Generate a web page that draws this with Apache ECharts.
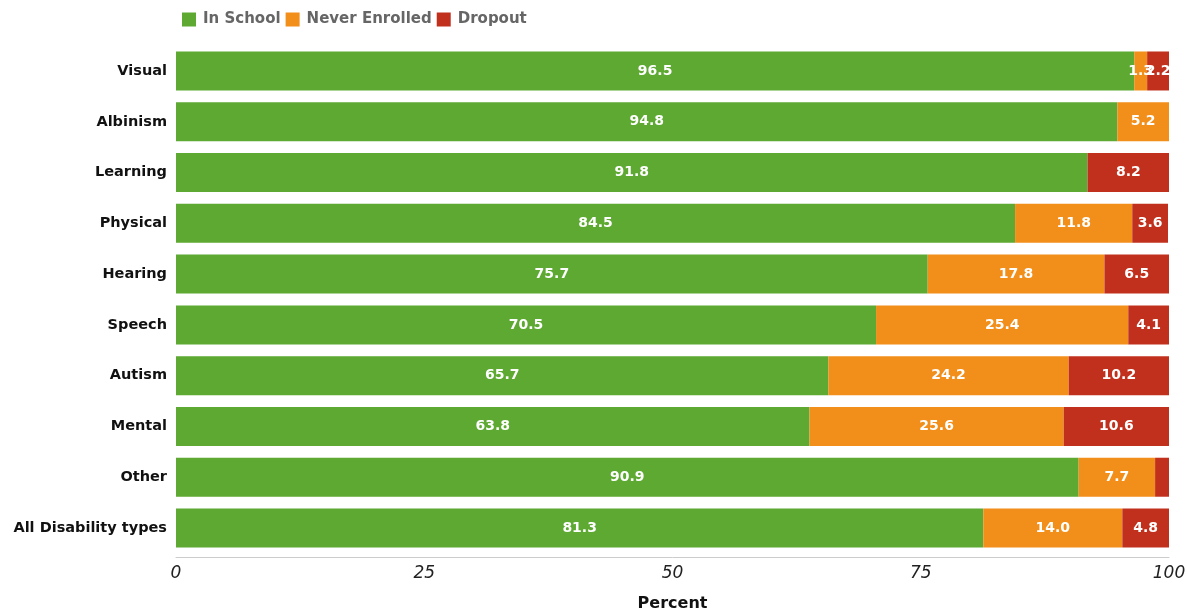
<!DOCTYPE html>
<html><head><meta charset="utf-8">
<script src="https://cdn.jsdelivr.net/npm/echarts@6/dist/echarts.min.js"></script>
<style>html,body{margin:0;padding:0;background:#fff}#c{width:1187px;height:611px}</style>
</head><body><div id="c"></div>
<script>
const categories = ["Visual","Albinism","Learning","Physical","Hearing","Speech","Autism","Mental","Other","All Disability types"];
const inSchool = [96.5,94.8,91.8,84.5,75.7,70.5,65.7,63.8,90.9,81.3];
const neverEnrolled = [1.3,5.2,0,11.8,17.8,25.4,24.2,25.6,7.7,14.0];
const dropout = [2.2,0,8.2,3.6,6.5,4.1,10.2,10.6,1.4,4.8];
const xTicks = [0,25,50,75,100];
const hiddenLabels = {"Dropout":[8]};

const FONT = "'DejaVu Sans', sans-serif";
function mk(name, vals, color){
  return {
    name, type:'bar', stack:'t', barWidth:39,
    itemStyle:{color},
    label:{show:true, position:'inside', color:'#fff', fontWeight:'bold', fontSize:14, fontFamily:FONT,
      formatter:p=> p.value? p.value.toFixed(1):''},
    data: vals.map((v,i)=>{
      const hide = (hiddenLabels[name]||[]).includes(i);
      return hide? {value:v,label:{show:false}} : v;
    })
  };
}
const chart = echarts.init(document.getElementById('c'));
chart.setOption({
  animation:false,
  textStyle:{fontFamily:FONT},
  legend:{left:177, top:7, itemWidth:14, itemHeight:14, itemGap:5, icon:'rect',
    textStyle:{color:'#666666', fontWeight:'bold', fontSize:15, fontFamily:FONT, padding:[0,0,0,2]}},
  grid:{left:176, right:18, top:45.6, bottom:57.6, outerBoundsMode:'none', containLabel:false},
  xAxis:{type:'value', min:0, max:100, interval:25, offset:4,
    axisLine:{show:true, lineStyle:{color:'#cccccc'}}, axisTick:{show:false}, splitLine:{show:false},
    axisLabel:{fontStyle:'italic', fontSize:17, color:'#222', margin:8,
      formatter:v=> xTicks.includes(v)? String(v):''},
    name:'Percent', nameLocation:'middle', nameGap:38,
    nameTextStyle:{fontWeight:'bold', fontSize:16, color:'#111'}},
  yAxis:{type:'category', data:categories, inverse:true,
    axisLine:{show:false}, axisTick:{show:false},
    axisLabel:{fontWeight:'bold', fontSize:14.5, color:'#111', margin:9}},
  series:[mk('In School',inSchool,'#5da932'), mk('Never Enrolled',neverEnrolled,'#f28e1a'), mk('Dropout',dropout,'#c1301d')]
});
</script></body></html>
